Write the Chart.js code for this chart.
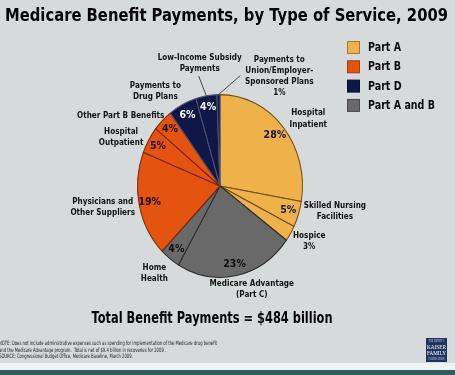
<!DOCTYPE html>
<html><head><meta charset="utf-8">
<script src="https://cdn.jsdelivr.net/npm/chart.js@4/dist/chart.umd.min.js"></script>
<style>html,body{margin:0;padding:0;background:#d7dadb;overflow:hidden}canvas{display:block}</style>
</head><body>
<canvas id="c" width="455" height="375"></canvas>
<script>
// ---- data ----
const title = 'Medicare Benefit Payments, by Type of Service, 2009';
const categories = ['Hospital\nInpatient','Skilled Nursing\nFacilities','Hospice','Medicare Advantage\n(Part C)','Home\nHealth','Physicians and\nOther Suppliers','Hospital\nOutpatient','Other Part B Benefits','Payments to\nDrug Plans','Low-Income Subsidy\nPayments','Payments to\nUnion/Employer-\nSponsored Plans'];
const shares = [27.7, 4.6, 2.8, 23.3, 4.0, 18.6, 4.8, 3.9, 5.6, 4.1, 0.6];
const parts = ['Part A','Part A','Part A','Part A and B','Part A and B','Part B','Part B','Part B','Part D','Part D','Part D'];
const pctOutside = [false,false,true,false,false,false,false,false,false,false,true];
const legendLabels = ['Part A','Part B','Part D','Part A and B'];
const totalLabel = 'Total Benefit Payments = $484 billion';
const notes = [
  'NOTE: Does not include administrative expenses such as spending for implementation of the Medicare drug benefit',
  'and the Medicare Advantage program.  Total is net of $9.4 billion in recoveries for 2009 .',
  'SOURCE: Congressional Budget Office, Medicare Baseline, March 2009.'
];

// ---- styles / layout ----
const partColors = {'Part A':'#efb24b','Part B':'#e4530f','Part D':'#0e1747','Part A and B':'#696969'};
const partBorders = {'Part A':'#6e4c14','Part B':'#7a2406','Part D':'#4c5270','Part A and B':'#2c2c2c'};
const legendBorders = {'Part A':'#9b7a3a','Part B':'#a83c0a','Part D':'#0a1030','Part A and B':'#4a4a4a'};
const pctColors = {'Part A':'#1a1208','Part B':'#1e0c04','Part D':'#ffffff','Part A and B':'#0d0d0d'};
const pieStretch = 1.108;           // the reference pie is a slightly tall ellipse
// callout block centres: [angle from top in degrees, distance in radii]
const calloutAt = [[55.4,1.30],[101.3,1.42],[119.3,1.24],[161.2,1.195],[219.9,1.24],[260.9,1.44],[294.1,1.313],[302.7,1.43],[323.1,1.305],[349.6,1.363],[30.9,1.40]];
const FONT = "'DejaVu Sans', Verdana, sans-serif";

function txt(ctx, s, x, y, size, sx, color, align, weight, family){
  ctx.save();
  ctx.font = (weight||'bold') + ' ' + size + 'px ' + (family||FONT);
  ctx.fillStyle = color; ctx.textAlign = align||'center'; ctx.textBaseline = 'middle';
  ctx.translate(x, y); ctx.scale(sx, 1); ctx.fillText(s, 0, 0);
  ctx.restore();
}
function fitScale(ctx, s, size, target, weight, family){
  ctx.save(); ctx.font = (weight||'bold') + ' ' + size + 'px ' + (family||FONT);
  const w = ctx.measureText(s).width; ctx.restore(); return target / w;
}

const bgPlugin = {
  id:'bg',
  beforeDraw(ch){
    const c = ch.ctx; c.save();
    c.fillStyle = '#d7dadb'; c.fillRect(0,0,ch.width,ch.height);
    c.fillStyle = '#f1f2f2'; c.fillRect(0,363,ch.width,7);
    c.fillStyle = '#2d5e60'; c.fillRect(0,370,ch.width,5);
    c.restore();
  }
};
const stretchPlugin = {
  id:'stretch',
  beforeDatasetsDraw(ch){
    const a = ch.getDatasetMeta(0).data[0]; const c = ch.ctx;
    c.save(); c.translate(a.x, a.y); c.scale(1, pieStretch); c.translate(-a.x, -a.y);
  },
  afterDatasetsDraw(ch){ ch.ctx.restore(); }
};
const textPlugin = {
  id:'texts',
  afterDraw(ch){
    const c = ch.ctx;
    const arcs = ch.getDatasetMeta(0).data;
    const cx = arcs[0].x, cy = arcs[0].y, R = arcs[0].outerRadius;
    const pt = (ang, f) => [cx + R*f*Math.cos(ang), cy + R*f*Math.sin(ang)*pieStretch];
    const pct = shares.map(v => Math.round(v) + '%');

    // title
    txt(c, title, 5, 16, 17.5, fitScale(c, title, 17.5, 443), '#000', 'left');

    // legend
    const lsx = fitScale(c, 'Part A and B', 11.5, 67);
    legendLabels.forEach((p, i) => {
      const y = 41.5 + i*19.3;
      c.fillStyle = partColors[p]; c.fillRect(347.5, y, 12, 12);
      c.strokeStyle = legendBorders[p]; c.lineWidth = 1; c.strokeRect(347.5, y, 12, 12);
      txt(c, p, 368, y + 6.5, 11.5, lsx, '#0a0a0a', 'left');
    });

    // percentages inside slices
    arcs.forEach((a, i) => {
      if (pctOutside[i]) return;
      const m = (a.startAngle + a.endAngle)/2;
      const [x, y] = pt(m, 0.87);
      txt(c, pct[i], x, y, 11, 0.86, pctColors[parts[i]]);
    });

    // callout labels
    const csx = fitScale(c, 'Low-Income Subsidy', 9.5, 84);
    const LH = 11.1;
    categories.forEach((name, i) => {
      const lines = name.split('\n');
      if (pctOutside[i]) lines.push(pct[i]);
      const ang = (calloutAt[i][0] - 90) * Math.PI/180;
      const [bx, by] = pt(ang, calloutAt[i][1]);
      const y0 = by - (lines.length-1)*LH/2;
      lines.forEach((l, j) => txt(c, l, bx, y0 + j*LH, 9.5, csx, '#111'));
      // leader lines for the two small Part D slices
      let end = null;
      if (i === 9) end = [bx - 1, y0 + (lines.length-1)*LH + 7];
      if (i === 10) end = [bx - 39, y0 + LH + 5];
      if (end){
        const a = arcs[i]; const m = (a.startAngle + a.endAngle)/2;
        const [sx0, sy0] = pt(m, 1.0);
        c.save(); c.strokeStyle = '#4a4a4a'; c.lineWidth = 1;
        c.beginPath(); c.moveTo(sx0, sy0); c.lineTo(end[0], end[1]); c.stroke(); c.restore();
      }
    });

    // total
    txt(c, totalLabel, 212, 319, 16, fitScale(c, totalLabel, 16, 241), '#000');

    // notes
    const nsx = fitScale(c, notes[0], 6, 218, 'normal');
    notes.forEach((n, i) => txt(c, n, -1, 343.5 + i*6.5, 6, nsx, '#1a1a1a', 'left', 'normal'));

    // foundation logo
    c.save(); c.fillStyle = '#1f3461'; c.fillRect(426, 338, 21, 24); c.restore();
    const SERIF = "'Liberation Serif', 'DejaVu Serif', serif";
    txt(c, 'THE HENRY J.', 436.5, 341.5, 3, fitScale(c,'THE HENRY J.',3,16,'normal',SERIF), '#c9d0e0', 'center', 'normal', SERIF);
    txt(c, 'KAISER', 436.5, 347, 6.5, fitScale(c,'KAISER',6.5,19,'normal',SERIF), '#ffffff', 'center', 'normal', SERIF);
    txt(c, 'FAMILY', 436.5, 353.5, 6.5, fitScale(c,'FAMILY',6.5,19,'normal',SERIF), '#ffffff', 'center', 'normal', SERIF);
    txt(c, 'FOUNDATION', 436.5, 359, 3, fitScale(c,'FOUNDATION',3,16,'normal',SERIF), '#c9d0e0', 'center', 'normal', SERIF);
  }
};

new Chart(document.getElementById('c').getContext('2d'), {
  type: 'pie',
  data: {
    labels: categories.map(s => s.replace(/\n/g, ' ')),
    datasets: [{
      data: shares,
      backgroundColor: parts.map(p => partColors[p]),
      borderColor: parts.map(p => partBorders[p]),
      borderWidth: 1,
      clip: false
    }]
  },
  options: {
    responsive: false,
    animation: false,
    events: [],
    layout: { padding: { left: 137, right: 152, top: 103, bottom: 106 } },
    plugins: { legend: { display: false }, tooltip: { enabled: false }, title: { display: false } }
  },
  plugins: [bgPlugin, stretchPlugin, textPlugin]
});
</script>
</body></html>
